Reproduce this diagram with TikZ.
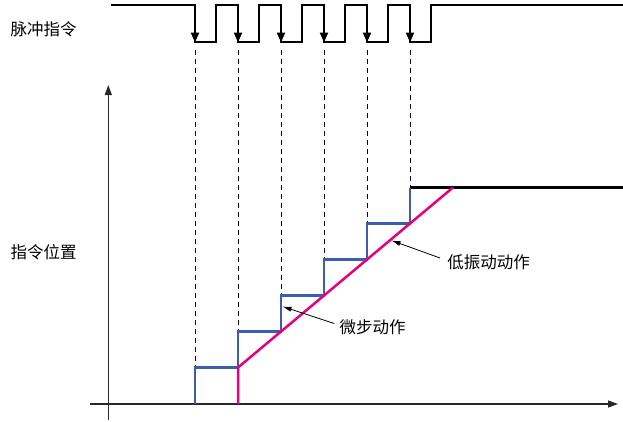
\documentclass[tikz,border=0pt]{standalone}
\usepackage{fontspec}
\setmainfont{Noto Sans CJK SC}
\usetikzlibrary{arrows.meta}
\definecolor{stepblue}{RGB}{58,95,175}
\definecolor{rampmag}{RGB}{230,0,126}
\definecolor{axisgray}{RGB}{40,40,40}
\begin{document}
\begin{tikzpicture}[x=1pt,y=-1pt,
  lbl/.style={font=\fontsize{16.5}{18}\selectfont, inner sep=0pt},
  pulse/.style={line width=2.2pt, black, line join=miter},
  pulsehead/.style={-{Triangle[length=10pt,width=8pt]}, line width=2.2pt},
  guide/.style={dash pattern=on 5pt off 4pt, line width=0.7pt},
  axisline/.style={line width=1.2pt, axisgray, -{Triangle[length=10pt,width=7pt]}},
  stairs/.style={line width=2.5pt, stepblue, line join=miter},
  ramp/.style={line width=2.5pt, rampmag, line join=miter},
  hold/.style={line width=2.5pt, black},
  pointer/.style={line width=0.8pt, -{Latex[length=9pt,width=5pt]}}
]
\useasboundingbox (0,0) rectangle (623,421);

% labels
\node[lbl] (pulselbl) at (43.5,29) {脉冲指令};
\node[lbl] (poslbl) at (43.5,252) {指令位置};
\node[lbl] (lowvib) at (488.5,262) {低振动动作};
\node[lbl] (micro) at (372.5,327.5) {微步动作};

% pulse train
\draw[pulse] (111,5) -- (195,5) -- (195,41.7) -- (216,41.7) -- (216,5)
  -- (238,5) -- (238,41.7) -- (259,41.7) -- (259,5)
  -- (281,5) -- (281,41.7) -- (302,41.7) -- (302,5)
  -- (324,5) -- (324,41.7) -- (345,41.7) -- (345,5)
  -- (367,5) -- (367,41.7) -- (388,41.7) -- (388,5)
  -- (410,5) -- (410,41.7) -- (431,41.7) -- (431,5) -- (623,5);
\foreach \x in {195,238,281,324,367,410}
  \draw[pulsehead] (\x,15) -- (\x,42.5);

% axes
\coordinate (ybot) at (108.3,420);
\coordinate (ytop) at (108.3,85);
\coordinate (xleft) at (90,404);
\coordinate (xright) at (618,404);
\draw[axisline] (ybot) -- (ytop);
\draw[axisline] (xleft) -- (xright);

% step corners
\coordinate (s0) at (195,404);
\coordinate (s1) at (195,367.5);
\coordinate (s2) at (238,331.5);
\coordinate (s3) at (281,295.5);
\coordinate (s4) at (324,259.5);
\coordinate (s5) at (367,223.5);
\coordinate (s6) at (410,187.5);

% guide dashed lines
\draw[guide] (195,50) -- (s1);
\draw[guide] (238,50) -- (s2);
\draw[guide] (281,50) -- (s3);
\draw[guide] (324,50) -- (s4);
\draw[guide] (367,50) -- (s5);
\draw[guide] (410,50) -- (s6);

% hold line
\coordinate (holdend) at (623,187.5);
\draw[hold] (s6) -- (holdend);

% stairs
\draw[stairs] (s0) -- (s1) -- (238,367.5) -- (s2) -- (281,331.5) -- (s3)
  -- (324,295.5) -- (s4) -- (367,259.5) -- (s5) -- (410,223.5) -- (s6);

% ramp
\coordinate (r0) at (238,404);
\coordinate (r1) at (238,367.5);
\coordinate (r2) at (453,187.5);
\draw[ramp] (r0) -- (r1) -- (r2);

% pointers
\coordinate (lowtip) at (391.5,240.5);
\coordinate (microtip) at (282.5,306.5);
\draw[pointer] (lowvib.west) ++(-7,-4) -- (lowtip);
\draw[pointer] (micro.west) ++(-5,-4) -- (microtip);
\end{tikzpicture}
\end{document}
